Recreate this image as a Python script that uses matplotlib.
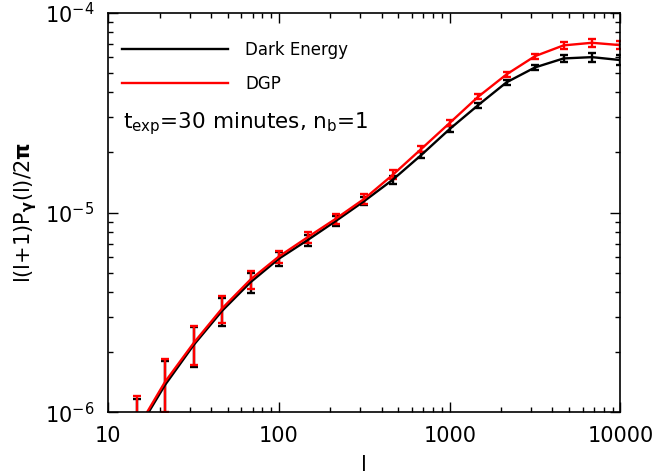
import numpy as np
import matplotlib
matplotlib.use("Agg")
import matplotlib.pyplot as plt

# multipoles (6 per decade)
ell = [14.7, 21.5, 31.6, 46.4, 68.1, 100, 147, 215, 316, 464, 681,
       1000, 1468, 2154, 3162, 4642, 6813, 10000]

# Dark Energy
de_val = [0.80e-6, 1.37e-6, 2.17e-6, 3.22e-6, 4.48e-6, 5.88e-6, 7.28e-6,
          9.07e-6, 1.142e-5, 1.46e-5, 1.94e-5, 2.62e-5, 3.45e-5, 4.49e-5,
          5.33e-5, 5.91e-5, 6.00e-5, 5.80e-5]
de_err = [0.36e-6, 0.44e-6, 0.49e-6, 0.52e-6, 0.51e-6, 0.45e-6, 0.45e-6,
          0.50e-6, 0.55e-6, 0.65e-6, 0.70e-6, 0.80e-6, 1.0e-6, 1.3e-6,
          1.7e-6, 2.4e-6, 3.2e-6, 3.5e-6]

# DGP
dgp_val = [0.82e-6, 1.42e-6, 2.22e-6, 3.31e-6, 4.62e-6, 6.03e-6, 7.52e-6,
           9.31e-6, 1.172e-5, 1.545e-5, 2.08e-5, 2.81e-5, 3.80e-5, 4.92e-5,
           6.07e-5, 6.87e-5, 7.08e-5, 6.89e-5]
dgp_err = [0.39e-6, 0.42e-6, 0.50e-6, 0.52e-6, 0.50e-6, 0.42e-6, 0.45e-6,
           0.55e-6, 0.70e-6, 0.80e-6, 0.75e-6, 0.85e-6, 1.1e-6, 1.4e-6,
           1.8e-6, 2.5e-6, 3.0e-6, 3.3e-6]

plt.rcParams['font.family'] = ['DejaVu Sans']
plt.rcParams['mathtext.fontset'] = 'dejavusans'

fig = plt.figure(figsize=(6.57, 4.75), dpi=100)
ax = fig.add_axes([0.1648, 0.132, 0.7795, 0.841])

ax.errorbar(ell, de_val, yerr=de_err, color='black', lw=1.7,
            elinewidth=1.7, capsize=2.6, capthick=1.7, label='Dark Energy')
ax.errorbar(ell, dgp_val, yerr=dgp_err, color='red', lw=1.7,
            elinewidth=1.7, capsize=2.6, capthick=1.7, label='DGP')

ax.set_xscale('log')
ax.set_yscale('log')
ax.set_xlim(10, 10000)
ax.set_ylim(1e-6, 1e-4)
ax.set_xticks([10, 100, 1000, 10000])
ax.set_xticklabels(['10', '100', '1000', '10000'])

ax.tick_params(which='both', direction='in', top=True, right=True,
               labelsize=15, width=1.0)
ax.tick_params(which='major', length=7.5, pad=10)
ax.tick_params(which='minor', length=3.8)
for s in ax.spines.values():
    s.set_linewidth(1.2)

ax.set_xlabel('l', fontsize=15, labelpad=6)
ax.set_ylabel(r'l(l+1)P$_{\mathbf{\gamma}}$(l)/2$\mathbf{\pi}$', fontsize=15,
              labelpad=4)

handles, labels = ax.get_legend_handles_labels()
handles = [h[0] for h in handles]
ax.legend(handles, labels, loc='upper left', bbox_to_anchor=(0.026, 0.93),
          frameon=False, fontsize=12, handlelength=6.4, handletextpad=1.0,
          labelspacing=0.95, borderpad=0, borderaxespad=0)

ax.text(0.029, 0.71, r'$\mathregular{t_{exp}}$=30 minutes, $\mathregular{n_b}$=1',
        transform=ax.transAxes, fontsize=15.5)

fig.savefig('out.png', dpi=100)
